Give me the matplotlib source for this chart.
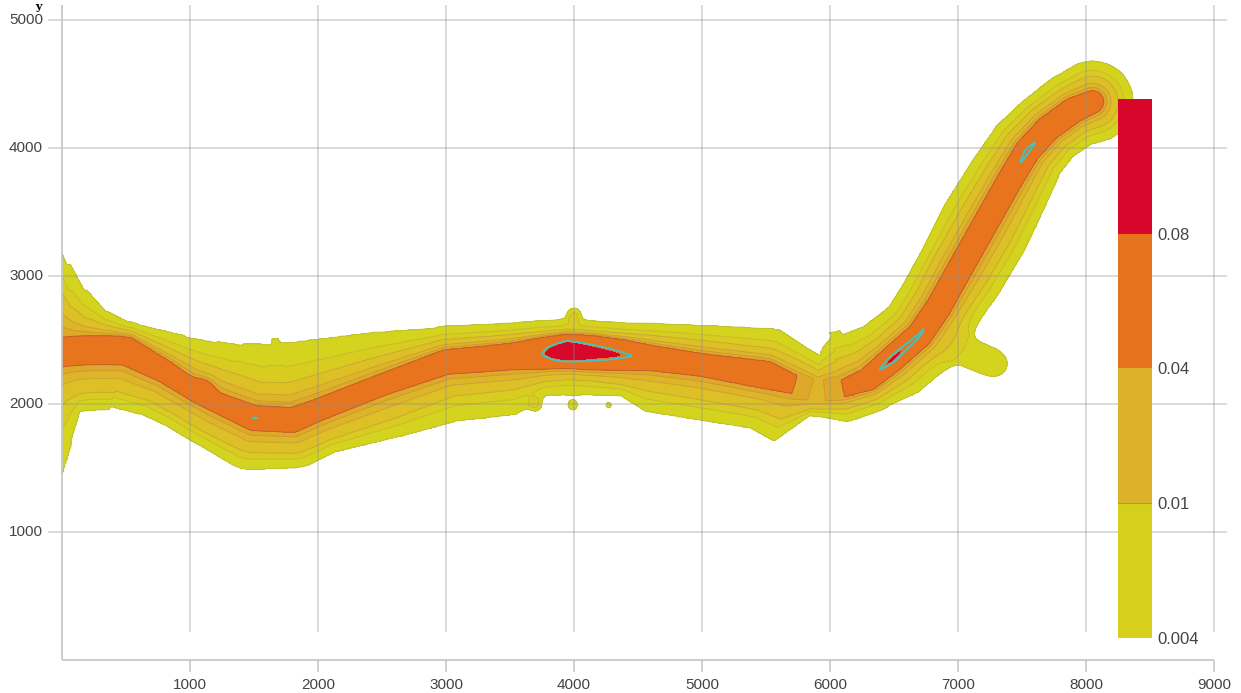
import numpy as np
import matplotlib
matplotlib.use("Agg")
import matplotlib.pyplot as plt
from matplotlib.colors import ListedColormap, BoundaryNorm
import matplotlib.cm as cm

# ---- ridge of the density band ----
ridge_x = [-100, 0, 100, 200, 350, 500, 800, 1000, 1200, 1500, 1800, 2000, 2500, 3000, 3500,
           3750, 3950, 4150, 4400, 4600, 5000, 5500, 5700, 5900, 6100, 6300, 6480, 6700, 6850,
           7000, 7200, 7400, 7540, 7700, 7900, 8050]
ridge_y = [2395, 2406, 2415, 2420, 2422, 2415, 2255, 2125, 2016, 1890, 1875, 1953, 2150, 2328, 2370,
           2395, 2412, 2400, 2380, 2360, 2305, 2227, 2160, 2100, 2120, 2195, 2345, 2540, 2760,
           3030, 3385, 3740, 3975, 4150, 4295, 4360]
ridge_peak = [0.058, 0.058, 0.058, 0.060, 0.060, 0.058, 0.050, 0.048, 0.050, 0.072, 0.055, 0.050, 0.052, 0.055, 0.060,
              0.070, 0.160, 0.110, 0.076, 0.058, 0.055, 0.058, 0.042, 0.026, 0.040, 0.056, 0.085, 0.074, 0.060,
              0.056, 0.056, 0.060, 0.078, 0.060, 0.058, 0.050]
# distance from ridge to the 0.04 contour
half_04 = [115, 115, 115, 115, 115, 112, 90, 80, 80, 98, 98, 88, 86, 98, 105,
           125, 135, 135, 120, 100, 90, 110, 80, 60, 70, 90, 100, 100, 100,
           100, 100, 100, 100, 100, 100, 90]
# distance to the 0.01 contour, upper / lower side
up_01 = [750, 540, 340, 250, 190, 160, 180, 220, 260, 280, 290, 270, 220, 175, 170,
         170, 170, 170, 170, 175, 190, 210, 190, 150, 230, 230, 200, 200, 210,
         220, 220, 210, 200, 190, 190, 200]
dn_01 = [450, 380, 340, 330, 330, 330, 260, 240, 250, 270, 260, 250, 280, 270, 260,
         220, 220, 220, 230, 260, 270, 280, 290, 140, 160, 170, 200, 200, 200,
         230, 240, 220, 200, 190, 190, 200]
# distance to the 0.004 contour, upper / lower side
up_004 = [1300, 1000, 680, 470, 300, 230, 320, 420, 500, 620, 640, 570, 430, 282, 263,
          258, 250, 250, 255, 273, 312, 367, 310, 260, 458, 420, 340, 320, 330,
          330, 350, 330, 310, 290, 300, 320]
dn_004 = [950, 720, 480, 470, 470, 465, 385, 350, 360, 405, 375, 355, 430, 470, 456,
          330, 340, 330, 320, 420, 430, 430, 470, 200, 260, 265, 330, 330, 320,
          360, 370, 340, 310, 290, 300, 320]

# ---- isolated features (knot, dots, spike, lobe) ----
blob_x = [1100, 3700, 3990, 4270, 4000, 7080, 7300]
blob_y = [2125, 1990, 1990, 1990, 2700, 2400, 2310]
blob_amp = [0.020, 0.0065, 0.0060, 0.0050, 0.0070, 0.0052, 0.0050]
blob_r = [55, 42, 38, 26, 45, 130, 110]

levels = [0.004, 0.007, 0.01, 0.02, 0.03, 0.04, 0.08, 10]
fill_colors = ['#d4d41e', '#d8cc20', '#dcc026', '#ddb528', '#dea92a', '#e8751e', '#d8082c']
line_levels = [0.004, 0.007, 0.01, 0.02, 0.03, 0.04]
line_colors = ['#bcc236', '#c8bc2c', '#c9ac30', '#cfa232', '#cf9a30', '#c0602a']

cbar_bounds = [0.004, 0.01, 0.04, 0.08, 0.15]
cbar_colors = ['#d6d01c', '#dcb22a', '#e8731e', '#d8062a']
cbar_ticks = [0.004, 0.01, 0.04, 0.08]
cbar_labels = ['0.004', '0.01', '0.04', '0.08']

x_ticks = [1000, 2000, 3000, 4000, 5000, 6000, 7000, 8000, 9000]
y_ticks = [1000, 2000, 3000, 4000, 5000]


def build_field(X, Y):
    rx = np.array(ridge_x, float)
    ry = np.array(ridge_y, float)
    best_d = np.full(X.shape, np.inf)
    best_k = np.zeros(X.shape, int)
    best_t = np.zeros(X.shape)
    best_c = np.zeros(X.shape)
    for k in range(len(rx) - 1):
        dx, dy = rx[k + 1] - rx[k], ry[k + 1] - ry[k]
        L2 = dx * dx + dy * dy
        t = np.clip(((X - rx[k]) * dx + (Y - ry[k]) * dy) / L2, 0, 1)
        d = np.hypot(X - (rx[k] + t * dx), Y - (ry[k] + t * dy))
        c = dx * (Y - ry[k]) - dy * (X - rx[k])
        m = d < best_d
        best_d[m] = d[m]; best_k[m] = k; best_t[m] = t[m]; best_c[m] = c[m]

    def lerp(arr):
        a = np.array(arr, float)
        return a[best_k] * (1 - best_t) + a[best_k + 1] * best_t

    up = best_c > 0
    P = lerp(ridge_peak)
    h = lerp(half_04)
    w1 = np.where(up, lerp(up_01), lerp(dn_01))
    w4 = np.where(up, lerp(up_004), lerp(dn_004))
    d = best_d
    Pc = np.maximum(P, 0.0401)
    l04, l01, l004, lend = np.log(0.04), np.log(0.01), np.log(0.004), np.log(1e-4)
    logv = np.where(d < h, np.log(Pc) + (l04 - np.log(Pc)) * d / h,
           np.where(d < w1, l04 + (l01 - l04) * (d - h) / (w1 - h),
           np.where(d < w4, l01 + (l004 - l01) * (d - w1) / (w4 - w1),
                    l004 + (lend - l004) * (d - w4) / 100.0)))
    v = np.minimum(np.exp(logv), P)
    for bx, by, ba, br in zip(blob_x, blob_y, blob_amp, blob_r):
        v = v + ba * np.exp(-0.5 * ((X - bx) ** 2 + (Y - by) ** 2) / br ** 2)
    return v


gx = np.linspace(0, 8700, 871)
gy = np.linspace(0, 5000, 501)
X, Y = np.meshgrid(gx, gy)
Z = build_field(X, Y)

fig = plt.figure(figsize=(12.41, 6.93), dpi=100)
ax = fig.add_axes([0, 0, 1, 1])
ax.set_xlim(-484.4, 9210.9)
ax.set_ylim(-257.8, 5156.25)
ax.axis('off')

ax.contourf(X, Y, Z, levels=levels, colors=fill_colors, zorder=1)
ax.contour(X, Y, Z, levels=line_levels, colors=line_colors, linewidths=0.7, zorder=2)
ax.contour(X, Y, Z, levels=[0.07], colors=['#3cc6c8'], linewidths=1.3, zorder=2)

grid_kw = dict(color='#8c8c8c', alpha=0.4, lw=1.1, zorder=3)
ax.vlines(x_ticks, 220, 5117, **grid_kw)
ax.hlines(y_ticks, -110, 9100, **grid_kw)
ax.vlines([0], 0, 5117, color='#c4c4c4', lw=1.2, zorder=3)
ax.hlines([0], 0, 9000, color='#c4c4c4', lw=1.2, zorder=3)
ax.vlines(x_ticks, -90, 0, color='#c4c4c4', lw=1.1, zorder=3)

font = ['Liberation Sans', 'DejaVu Sans']
for xv in x_ticks:
    ax.text(xv, -195, str(xv), ha='center', va='center', fontsize=11, color='#444444', family=font)
for yv in y_ticks:
    ax.text(-148, yv, str(yv), ha='right', va='center', fontsize=11, color='#444444', family=font)
ax.text(-187, 5150, 'y', ha='center', va='top', fontsize=8, fontweight='bold',
        color='black', family=['DejaVu Serif'])

cax = ax.inset_axes([8250, 172, 266, 4211], transform=ax.transData, zorder=5)
sm = cm.ScalarMappable(norm=BoundaryNorm(cbar_bounds, len(cbar_colors)),
                       cmap=ListedColormap(cbar_colors))
cb = fig.colorbar(sm, cax=cax, spacing='uniform', ticks=cbar_ticks)
cb.outline.set_visible(False)
cb.ax.minorticks_off()
cb.ax.set_yticks(cbar_ticks)
cb.ax.set_yticklabels(cbar_labels)
cb.ax.tick_params(length=0, pad=4, labelsize=12, labelcolor='#444444')
for lab in cb.ax.get_yticklabels():
    lab.set_family(font)
cb.ax.axhline(0.01, color='#b09a30', lw=0.8)

fig.savefig('out.png', dpi=100)
